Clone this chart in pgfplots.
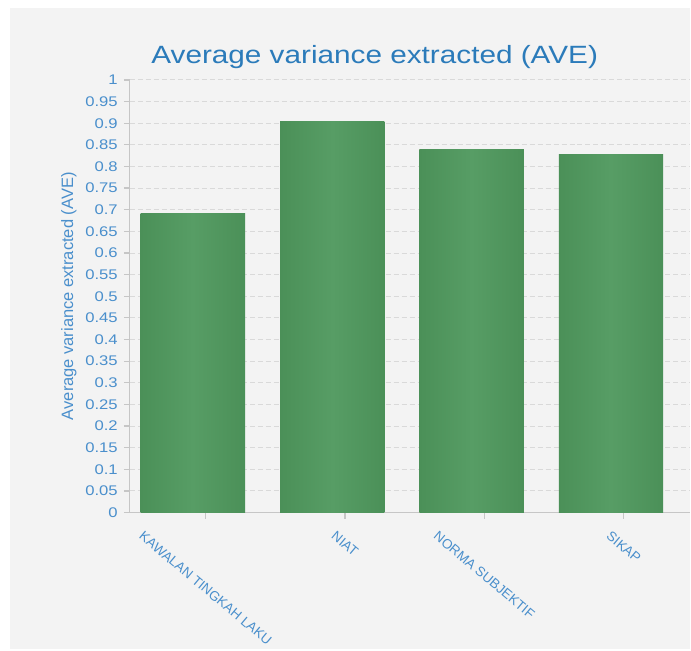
\documentclass[border=0pt]{standalone}
\usepackage{fontspec}
\setmainfont{Liberation Sans}[FakeStretch=1.19]
\newfontfamily\plainsans{Liberation Sans}
\usepackage{graphicx}
\usepackage{pgfplots}
\pgfplotsset{compat=1.18}
\definecolor{bgc}{HTML}{F3F3F3}
\definecolor{titlec}{HTML}{2B7BBA}
\definecolor{tickc}{HTML}{4A8FCC}
\definecolor{gridc}{HTML}{D9D9D9}
\definecolor{axc}{HTML}{C6C6C6}
\definecolor{barM}{HTML}{579D65}
\definecolor{barE}{HTML}{4B9058}
\begin{document}
\begin{tikzpicture}
\fill[white] (-130pt,-138pt) rectangle (561pt,513pt);
\fill[bgc] (-120pt,-137pt) rectangle (561pt,505pt);
\begin{axis}[
  scale only axis, width=561pt, height=433pt,
  xmin=-0.4516, xmax=3.5699, ymin=0, ymax=1,
  ybar, bar width=104.5pt, bar shift=0pt,
  axis x line*=bottom, axis y line*=left,
  axis line style={draw=axc, line width=1.2pt, -},
  ytick={0,0.05,...,1.01},
  /pgf/number format/fixed, /pgf/number format/precision=2,
  /pgf/number format/assume math mode=true,
  ymajorgrids, grid style={draw=gridc, line width=0.9pt, dash pattern=on 5pt off 3pt},
  tick align=outside, major tick length=6pt,
  tick style={draw=axc, line width=1.2pt},
  xtick={0.092,1.092,2.092,3.092},
  xticklabels={{\rotatebox{-40}{KAWALAN TINGKAH LAKU}},{\rotatebox{-40}{NIAT}},{\rotatebox{-40}{NORMA SUBJEKTIF}},{\rotatebox{-40}{SIKAP}}},
  xticklabel style={anchor=north, inner sep=0pt, yshift=-12pt, text=tickc, font=\plainsans\fontsize{13.5}{13.5}\selectfont},
  yticklabel style={text=tickc, font=\fontsize{14}{14}\selectfont, inner sep=0pt, xshift=-6pt},
  ylabel={Average variance extracted (AVE)},
  ylabel style={at={(axis description cs:-0.1087,0.5)}, anchor=center, text=tickc, font=\plainsans\fontsize{16.5}{16.5}\selectfont},
  title={Average variance extracted (AVE)},
  title style={at={(axis description cs:0.4367,1)}, anchor=base, yshift=10pt, text=titlec, font=\fontsize{25}{25}\selectfont},
  every axis plot/.style={draw=none, left color=barE, right color=barE, middle color=barM},
]
\addplot coordinates {(0,0.692)};
\addplot coordinates {(1,0.903)};
\addplot coordinates {(2,0.840)};
\addplot coordinates {(3,0.8285)};
\end{axis}
\end{tikzpicture}
\end{document}
